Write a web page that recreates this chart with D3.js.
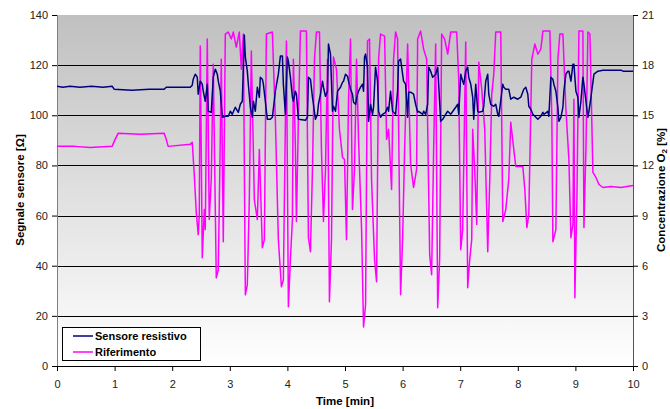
<!DOCTYPE html>
<html><head><meta charset="utf-8">
<script src="https://cdn.jsdelivr.net/npm/d3@7"></script>
<style>body{margin:0;background:#fff}svg{display:block;font-family:"Liberation Sans",Arial,sans-serif}</style>
</head><body><svg id="c" width="670" height="409"></svg>
<script>
// --- data ---
const xTicks = [0,1,2,3,4,5,6,7,8,9,10];
const yLeftTicks = [0,20,40,60,80,100,120,140];
const yRightTicks = [0,3,6,9,12,15,18,21];
const seriesNames = ["Sensore resistivo","Riferimento"];

// [time (min), resistance (Ω)]
const sensore = [[0,111.6],[0.1,111.2],[0.226,111.6],[0.4,111.2],[0.6,111.6],[0.8,111.2],[0.957,111.6],[0.991,110.4],[1.3,110],[1.6,110.4],[1.861,110.4],[1.896,111.2],[2.313,111.2],[2.348,112],[2.365,114.4],[2.4,116.4],[2.435,115.2],[2.452,108.4],[2.487,113.6],[2.522,112.4],[2.539,109.6],[2.574,105.6],[2.609,112.4],[2.626,101.6],[2.678,101.2],[2.713,115.2],[2.748,118.4],[2.783,116.4],[2.8,113.6],[2.835,109.6],[2.87,99.2],[2.922,99.6],[2.974,99.6],[3.009,101.6],[3.043,100.4],[3.096,103.2],[3.148,101.2],[3.183,104.4],[3.217,105.6],[3.252,132],[3.27,123.2],[3.304,117.6],[3.322,112.4],[3.357,103.2],[3.391,99.2],[3.409,105.6],[3.443,101.6],[3.478,111.2],[3.513,107.2],[3.53,115.2],[3.565,114.4],[3.583,112.4],[3.617,105.6],[3.652,98.4],[3.704,98.4],[3.739,99.2],[3.791,109.6],[3.843,116.4],[3.878,123.6],[3.913,123.6],[3.93,112.4],[3.965,100.4],[4.0,123.2],[4.017,121.6],[4.052,115.2],[4.087,107.2],[4.104,105.6],[4.139,109.6],[4.157,108.4],[4.191,98.4],[4.313,98],[4.348,99.2],[4.365,115.2],[4.4,114.4],[4.435,107.2],[4.452,104.4],[4.487,98.4],[4.522,100.4],[4.539,104.4],[4.574,108.4],[4.609,113.6],[4.626,111.2],[4.661,107.6],[4.696,109.6],[4.713,128.4],[4.748,124.4],[4.783,101.6],[4.8,103.6],[4.835,101.6],[4.87,109.6],[4.922,111.2],[4.957,113.2],[4.974,113.6],[5.009,116.4],[5.043,115.6],[5.061,113.6],[5.096,110.4],[5.13,108.4],[5.148,105.2],[5.183,104.4],[5.217,108.4],[5.235,109.6],[5.27,111.2],[5.304,112.4],[5.322,109.6],[5.339,123.2],[5.357,124.4],[5.391,119.2],[5.409,97.6],[5.443,104.4],[5.478,100.4],[5.496,103.2],[5.53,119.2],[5.565,113.6],[5.583,101.6],[5.617,99.2],[5.652,100.4],[5.704,101.2],[5.739,103.2],[5.757,101.6],[5.791,109.6],[5.826,101.6],[5.843,101.2],[5.878,100.4],[5.913,109.6],[5.93,121.6],[5.965,122.4],[6.0,116.4],[6.017,113.6],[6.052,112.4],[6.087,99.2],[6.104,109.2],[6.139,109.2],[6.191,108.4],[6.226,104.4],[6.261,101.2],[6.278,101.6],[6.348,100.4],[6.365,101.6],[6.4,100.4],[6.435,104.4],[6.452,119.2],[6.487,117.6],[6.522,115.2],[6.574,116.4],[6.609,119.2],[6.626,112.4],[6.661,97.6],[6.696,98.4],[6.748,100.4],[6.783,101.6],[6.835,100.4],[6.922,103.2],[6.957,104.4],[6.974,100.4],[7.009,116.4],[7.043,113.6],[7.061,112.4],[7.096,117.6],[7.13,119.2],[7.148,115.2],[7.183,112.4],[7.217,107.2],[7.235,98.4],[7.27,112.4],[7.304,101.6],[7.322,101.2],[7.391,101.6],[7.409,103.6],[7.443,113.6],[7.478,116.4],[7.496,108.4],[7.53,104.4],[7.583,103.6],[7.617,104.4],[7.652,100.4],[7.67,99.6],[7.739,112.4],[7.757,111.2],[7.791,110.4],[7.843,110.4],[7.878,106.4],[7.93,107.2],[8.0,106.4],[8.052,107.2],[8.104,110.4],[8.139,111.2],[8.174,108.4],[8.191,103.6],[8.226,102.4],[8.261,100.4],[8.296,99.6],[8.348,98.4],[8.4,99.6],[8.435,101.2],[8.452,100.4],[8.522,101.6],[8.539,99.6],[8.574,115.2],[8.609,114.4],[8.626,112.4],[8.661,109.6],[8.696,103.2],[8.713,97.6],[8.748,99.2],[8.783,103.2],[8.8,109.6],[8.835,116.4],[8.87,117.6],[8.887,117.6],[8.922,113.6],[8.957,120.4],[8.974,120.4],[9.009,109.6],[9.043,107.2],[9.061,99.2],[9.096,105.6],[9.13,115.2],[9.148,112.4],[9.183,105.6],[9.217,99.2],[9.235,101.6],[9.27,107.2],[9.304,113.2],[9.322,116.4],[9.391,117.6],[9.478,118],[9.791,118],[9.826,117.6],[10,117.6]];

// [time (min), O2 concentration (%)]
const riferimento = [[0,13.14],[0.313,13.14],[0.574,13.08],[0.957,13.14],[1.009,13.56],[1.061,13.92],[1.443,13.86],[1.861,13.92],[1.896,13.56],[1.93,13.14],[2.313,13.26],[2.348,13.38],[2.383,11.46],[2.417,9.24],[2.452,7.86],[2.47,9.06],[2.487,19.14],[2.522,6.48],[2.557,9.36],[2.574,8.16],[2.609,19.56],[2.643,8.76],[2.678,11.16],[2.713,18.06],[2.765,5.28],[2.8,5.76],[2.835,13.56],[2.852,18.36],[2.887,7.44],[2.922,19.86],[2.974,19.98],[3.026,19.56],[3.061,19.98],[3.113,19.08],[3.165,19.98],[3.2,17.76],[3.235,19.86],[3.27,4.26],[3.304,4.86],[3.339,9.96],[3.374,18.84],[3.426,9.96],[3.478,8.76],[3.513,12.96],[3.565,7.08],[3.6,7.56],[3.635,19.86],[3.739,19.98],[3.791,14.76],[3.843,7.56],[3.896,4.74],[3.93,5.16],[3.983,19.44],[4.017,3.54],[4.052,6.36],[4.087,8.76],[4.104,18.36],[4.139,12.96],[4.157,8.64],[4.191,14.76],[4.226,20.04],[4.33,20.04],[4.365,7.68],[4.4,6.84],[4.435,11.76],[4.47,18.36],[4.504,19.98],[4.557,19.98],[4.591,12.96],[4.626,8.64],[4.661,11.76],[4.696,18.36],[4.73,3.84],[4.765,7.56],[4.8,18.48],[4.852,17.76],[4.904,14.16],[4.957,12.48],[4.991,12.36],[5.026,7.56],[5.061,15.96],[5.096,19.56],[5.13,9.36],[5.165,11.76],[5.2,18.36],[5.235,13.56],[5.287,8.28],[5.322,2.34],[5.357,3.66],[5.391,19.44],[5.426,19.56],[5.461,11.16],[5.513,6.36],[5.548,5.04],[5.583,18.36],[5.617,19.86],[5.687,19.74],[5.722,13.56],[5.757,14.16],[5.809,10.56],[5.843,18.36],[5.878,19.98],[5.913,19.56],[5.965,4.26],[6.0,7.56],[6.035,12.96],[6.087,19.26],[6.139,12.06],[6.191,10.68],[6.243,11.76],[6.261,19.56],[6.313,20.04],[6.365,18.96],[6.417,18.36],[6.47,6.66],[6.504,5.46],[6.539,12.96],[6.574,19.26],[6.609,3.48],[6.643,6.36],[6.678,19.86],[6.73,19.56],[6.783,18.66],[6.835,19.98],[6.939,19.98],[6.974,17.16],[7.009,6.96],[7.043,8.16],[7.096,19.38],[7.13,4.68],[7.165,6.36],[7.2,7.56],[7.217,14.16],[7.252,11.76],[7.287,8.46],[7.322,18.18],[7.374,16.56],[7.426,14.16],[7.478,6.84],[7.513,11.16],[7.548,16.26],[7.583,17.46],[7.617,19.98],[7.704,19.98],[7.739,8.64],[7.791,9.36],[7.843,11.16],[7.878,14.58],[7.93,12.96],[7.965,11.94],[8.087,11.94],[8.122,10.56],[8.157,8.28],[8.191,9.06],[8.243,18.36],[8.296,19.26],[8.348,18.66],[8.4,18.96],[8.435,20.04],[8.557,20.04],[8.591,14.76],[8.609,7.44],[8.661,8.16],[8.696,18.36],[8.73,19.86],[8.783,19.86],[8.835,15.36],[8.887,12.36],[8.922,7.68],[8.957,8.46],[8.974,15.96],[8.991,4.08],[9.026,9.96],[9.061,20.04],[9.13,20.04],[9.148,8.28],[9.183,12.96],[9.217,19.98],[9.252,19.86],[9.304,11.58],[9.357,11.28],[9.409,10.86],[9.478,10.68],[9.617,10.74],[9.791,10.68],[10,10.8]];

// --- layout ---
const L = 57, R = 633, T = 15, B = 366;
const svg = d3.select("#c");
const x = d3.scaleLinear().domain([0,10]).range([L,R]);
const y = d3.scaleLinear().domain([0,140]).range([B,T]);
const y2 = d3.scaleLinear().domain([0,21]).range([B,T]);

const defs = svg.append("defs");
const g = defs.append("linearGradient").attr("id","bg").attr("x1",0).attr("y1",0).attr("x2",0).attr("y2",1);
g.append("stop").attr("offset","0%").attr("stop-color","#c0c0c0");
g.append("stop").attr("offset","100%").attr("stop-color","#ffffff");
defs.append("clipPath").attr("id","clip").append("rect").attr("x",L).attr("y",T-2).attr("width",R-L).attr("height",B-T+2);

svg.append("rect").attr("x",L).attr("y",T).attr("width",R-L).attr("height",B-T).attr("fill","url(#bg)");

// gridlines
svg.append("g").selectAll("line").data(yLeftTicks.filter(d=>d>0&&d<140)).join("line")
  .attr("x1",L).attr("x2",R).attr("y1",d=>Math.round(y(d))+0.5).attr("y2",d=>Math.round(y(d))+0.5)
  .attr("stroke","#000").attr("stroke-width",1);

// axes
const fontSize = 11;
const axL = svg.append("g").attr("transform",`translate(${L},0)`)
  .call(d3.axisLeft(y).tickValues(yLeftTicks).tickSize(5).tickPadding(4));
const axR = svg.append("g").attr("transform",`translate(${R},0)`)
  .call(d3.axisRight(y2).tickValues(yRightTicks).tickSize(5).tickPadding(4));
const axB = svg.append("g").attr("transform",`translate(0,${B})`)
  .call(d3.axisBottom(x).tickValues(xTicks).tickSize(5).tickPadding(9));
[axL,axR,axB].forEach(a=>{
  a.selectAll("text").attr("font-size",fontSize).attr("fill","#222").attr("font-family","'Liberation Sans',Arial,sans-serif");
  a.selectAll("line").attr("stroke","#000");
  a.select(".domain").attr("stroke","#000");
});
axL.select(".domain").attr("stroke","#808080");
axR.select(".domain").attr("stroke","#555");

// lines
const plot = svg.append("g").attr("clip-path","url(#clip)");
plot.append("path").datum(riferimento).attr("fill","none").attr("stroke","#ff00ff").attr("stroke-width",1.5)
  .attr("stroke-linejoin","round")
  .attr("d",d3.line().x(d=>x(d[0])).y(d=>y2(d[1])));
plot.append("path").datum(sensore).attr("fill","none").attr("stroke","#000080").attr("stroke-width",1.5)
  .attr("stroke-linejoin","round")
  .attr("d",d3.line().x(d=>x(d[0])).y(d=>y(d[1])));

// titles
svg.append("text").attr("transform","translate(24,190) rotate(-90)").attr("text-anchor","middle")
  .attr("font-size",11.5).attr("font-weight","bold").attr("fill","#000").text("Segnale sensore [Ω]");
svg.append("text").attr("x",345).attr("y",405).attr("text-anchor","middle")
  .attr("font-size",11.5).attr("font-weight","bold").attr("fill","#000").text("Time [min]");
const rt = svg.append("text").attr("transform","translate(665,190) rotate(-90)").attr("text-anchor","middle")
  .attr("font-size",11.5).attr("font-weight","bold").attr("fill","#000");
rt.append("tspan").text("Concentrazione O");
rt.append("tspan").attr("font-size",8).attr("dy",2).text("2");
rt.append("tspan").attr("dy",-2).text(" [%]");

// legend
const lg = svg.append("g");
lg.append("rect").attr("x",62.5).attr("y",327.5).attr("width",138).attr("height",33)
  .attr("fill","#fff").attr("stroke","#000").attr("stroke-width",1);
const colors = ["#000080","#ff00ff"];
seriesNames.forEach((n,i)=>{
  const yy = 336 + i*16;
  lg.append("line").attr("x1",73).attr("x2",93).attr("y1",yy).attr("y2",yy).attr("stroke",colors[i]).attr("stroke-width",1.5);
  lg.append("text").attr("x",95).attr("y",yy+4).attr("font-size",11).attr("font-weight","bold").attr("fill","#000").text(n);
});
</script></body></html>
